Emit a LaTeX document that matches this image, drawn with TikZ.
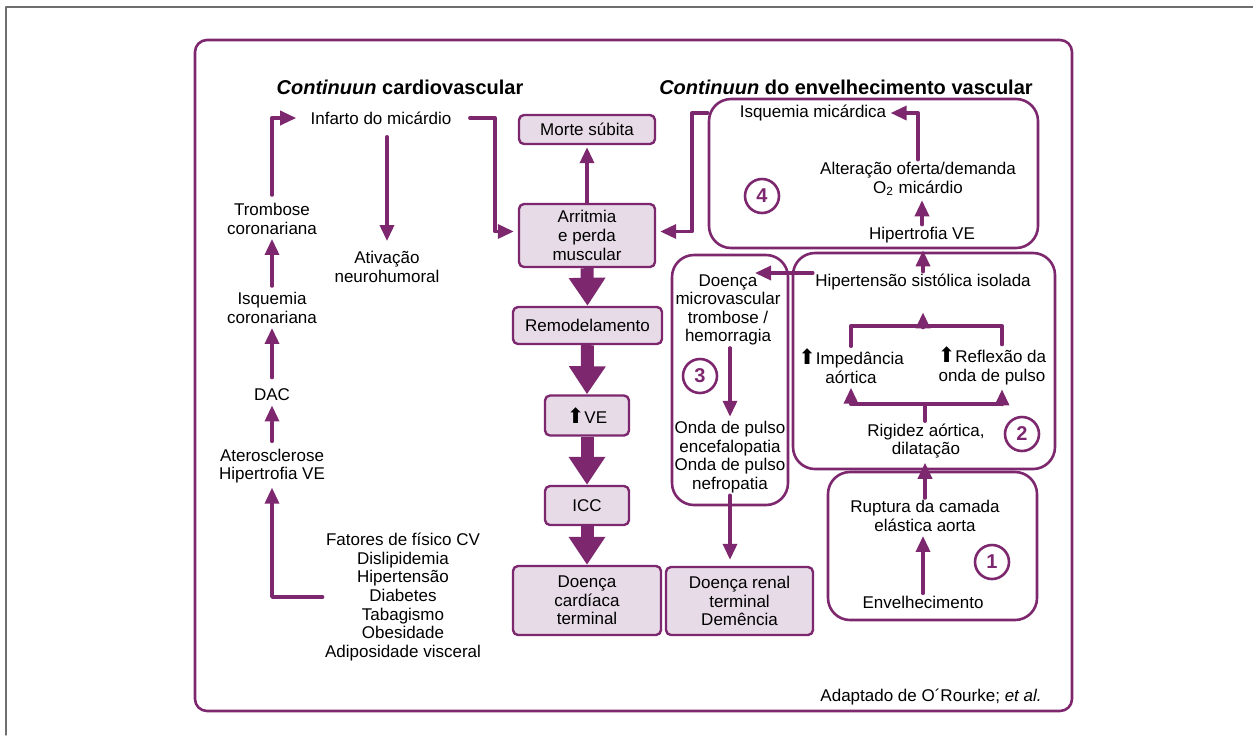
\documentclass[tikz,border=0pt]{standalone}
\usepackage{fontspec}
\setmainfont{Liberation Sans}
\newfontfamily\simbolos{DejaVu Sans}
\usepackage{xcolor}
\usepackage{tikz}
\usetikzlibrary{arrows.meta,calc,positioning}
\definecolor{roxo}{RGB}{125,40,110}
\definecolor{lilas}{RGB}{231,219,231}
\definecolor{moldura}{RGB}{110,110,110}
\newcommand{\sobe}{{\simbolos\fontsize{10.5}{10}\selectfont ⬆}}

\begin{document}
\begin{tikzpicture}[x=0.5pt,y=-0.5pt,line cap=round,line join=round,
  font=\fontsize{8.5}{9.3}\selectfont,
  txt/.style={align=center,inner sep=1pt},
  titulo/.style={inner sep=1pt,font=\fontsize{10}{12}\selectfont\bfseries},
  caixa/.style={draw=roxo,fill=lilas,line width=1.2pt,rounded corners=2.5pt,align=center,inner sep=0pt},
  bloco/.style={draw=roxo,line width=1.3pt,rounded corners=11pt,inner sep=0pt},
  num/.style={circle,draw=roxo,line width=1.3pt,text=roxo,inner sep=0pt,minimum size=17pt,font=\fontsize{10}{10}\selectfont\bfseries},
  seta/.style={draw=roxo,line width=1.7pt,shorten >=1pt,-{Triangle[length=8pt,width=7pt]}},
  setagrossa/.style={draw=roxo,line width=6.5pt,line cap=butt,-{Triangle[length=14pt,width=17.5pt]}},
  traco/.style={draw=roxo,line width=1.7pt}]
\useasboundingbox (0,0) rectangle (1253,735);
\draw[moldura,line width=0.7pt] (6,735) -- (6,7) -- (1253,7);
\draw[roxo,line width=1.3pt,rounded corners=6pt] (195,40) rectangle (1072,711);

% continuun cardiovascular
\node[titulo] (tit1) at (400,87) {\textit{Continuun} cardiovascular};
\node[txt] (infarto) at (381,118) {Infarto do micárdio};
\node[txt] (trombose) at (272,219) {Trombose\\coronariana};
\node[txt] (ativacao) at (387,267) {Ativação\\neurohumoral};
\node[txt] (isqcoron) at (272,308) {Isquemia\\coronariana};
\node[txt] (dac) at (272,395) {DAC};
\node[txt] (ateros) at (272,466) {Aterosclerose\\Hipertrofia VE};
\node[txt] (fatores) at (403,597) {Fatores de físico CV\\Dislipidemia\\Hipertensão\\Diabetes\\Tabagismo\\Obesidade\\Adiposidade visceral};

\node[caixa,minimum width=68pt,minimum height=14.5pt] (morte) at (587,129.5) {Morte súbita};
\node[caixa,minimum width=68pt,minimum height=31.5pt] (arritmia) at (587,235.5) {Arritmia\\e perda\\muscular};
\node[caixa,minimum width=74.5pt,minimum height=18.5pt] (remodel) at (587.5,325.5) {Remodelamento};
\node[caixa,minimum width=42pt,minimum height=20pt] (ve) at (587,415.5) {\sobe VE};
\node[caixa,minimum width=42pt,minimum height=19.5pt] (icc) at (587,505.5) {ICC};
\node[caixa,minimum width=74pt,minimum height=34.5pt] (cardterm) at (587,600.5) {Doença\\cardíaca\\terminal};
\node[caixa,minimum width=73.5pt,minimum height=34pt] (renalterm) at (739.5,601) {Doença renal\\terminal\\Demência};

% continuun do envelhecimento vascular
\node[titulo] (tit2) at (846,87) {\textit{Continuun} do envelhecimento vascular};
\node[bloco,minimum width=164.5pt,minimum height=74.5pt] (bq) at (873.5,173.5) {};
\node[bloco,minimum width=58pt,minimum height=125pt] (bt) at (730,380) {};
\node[bloco,minimum width=131pt,minimum height=108pt] (bd) at (924,361) {};
\node[bloco,minimum width=104.5pt,minimum height=74pt] (bu) at (932.5,546) {};

\node[txt] (isqmic) at (813,113) {Isquemia micárdica};
\node[txt] (oferta) at (918,179) {Alteração oferta/demanda\\O\textsubscript{2} micárdio};
\node[txt] (hipve) at (922,235) {Hipertrofia VE};
\node[txt] (microvasc) at (728,310) {Doença\\microvascular\\trombose /\\hemorragia};
\node[txt] (ondapulso) at (730,457) {Onda de pulso\\encefalopatia\\Onda de pulso\\nefropatia};
\node[txt] (hipsist) at (923,282) {Hipertensão sistólica isolada};
\node[txt] (impedancia) at (851,366) {\sobe Impedância\\aórtica};
\node[txt] (reflexao) at (992,366) {\sobe Reflexão da\\onda de pulso};
\node[txt] (rigidez) at (926,441) {Rigidez aórtica,\\dilatação};
\node[txt] (ruptura) at (925,516) {Ruptura da camada\\elástica aorta};
\node[txt] (envelh) at (923,602) {Envelhecimento};
\node[num] (n4) at (762,196) {4};
\node[num] (n3) at (700,376) {3};
\node[num] (n2) at (1022,434) {2};
\node[num] (n1) at (992,562) {1};
\node[txt,anchor=east] (fonte) at (1044,697) {Adaptado de O´Rourke; \textit{et al.}};

\coordinate (dobraA) at (495,175);
\coordinate (dobraB) at (692,170);
\coordinate (pontamv) at (753,273);
\coordinate (barra1) at (923,326);
\coordinate (barra2) at (925,404);

% setas esquerda
\draw[seta,shorten <=3pt,shorten >=6pt] (trombose.north) |- (infarto.west);
\draw[seta,shorten <=2pt] (isqcoron.north) -- (trombose.south);
\draw[seta,shorten <=4.5pt] (dac.north) -- (isqcoron.south);
\draw[seta,shorten <=2.5pt] (ateros.north) -- (dac.south);
\draw[seta] (fatores.west) -| (ateros.south);
\draw[seta,shorten <=5pt,shorten >=4pt] (infarto.south -| ativacao.north) -- (ativacao.north);
\draw[seta,shorten <=8pt,shorten >=2pt] (infarto.east) -| (dobraA) |- ([yshift=2pt]arritmia.west);
\draw[seta] (arritmia.north) -- (morte.south);
\draw[setagrossa] (arritmia.south) -- (remodel.north);
\draw[setagrossa] (remodel.south) -- (ve.north);
\draw[setagrossa] (ve.south) -- (icc.north);
\draw[setagrossa] (icc.south) -- (cardterm.north);
%\draw[seta] (morte.west) -- (infarto.east);

% setas direita
\draw[seta] (oferta.north) |- (isqmic.east);
\draw[seta] (hipve.north) -- (hipve.north |- oferta.south);
\draw[seta,shorten >=2.5pt] (hipsist.north) -- (hipsist.north |- hipve.south);
\draw[seta,shorten >=2pt] (bq.west |- isqmic) -| (dobraB) |- ([yshift=2pt]arritmia.east);
\draw[seta] (hipsist.west |- pontamv) -- (pontamv);
\draw[traco] (impedancia.north) |- (barra1) -| ([xshift=5pt]reflexao.north);
\draw[seta,shorten >=10pt] (barra1) -- (barra1 |- hipsist.south);
\draw[traco] (barra2) -- (barra2 |- rigidez.north);
\draw[seta] (barra2) -| (impedancia.south);
\draw[seta] (barra2) -| ([xshift=5pt]reflexao.south);
\draw[seta] (ruptura.north) -- (ruptura.north |- rigidez.south);
\draw[seta] (envelh.north) -- (envelh.north |- ruptura.south);
\draw[seta] (microvasc.south -| ondapulso) -- (ondapulso.north);
\draw[seta,shorten >=3pt] (ondapulso.south) -- (ondapulso.south |- renalterm.north);
\end{tikzpicture}
\end{document}
